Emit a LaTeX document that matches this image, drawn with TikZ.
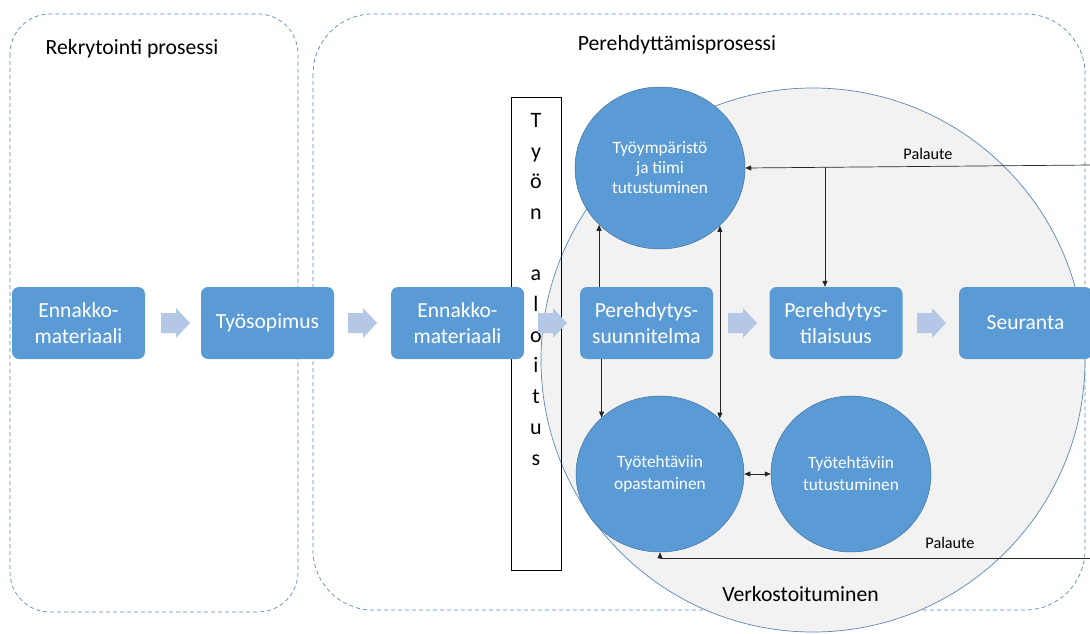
\documentclass[tikz,border=0pt]{standalone}
\usepackage{fontspec}
\setmainfont{Carlito}
\usetikzlibrary{shapes.geometric,arrows.meta}
\definecolor{boxblue}{HTML}{5B9BD5}
\definecolor{edgeblue}{HTML}{41719C}
\definecolor{arrblue}{HTML}{B4C7E7}
\definecolor{dashblue}{HTML}{5B87B8}
\definecolor{netgrey}{HTML}{F2F2F2}
\definecolor{netedge}{HTML}{5A86B5}
\newcommand\blockarr[2]{\fill[arrblue] (#1,#2) ++(0,-10) -- ++(15,0) -- ++(0,-5) -- ++(14,15) -- ++(-14,15) -- ++(0,-5) -- ++(-15,0) -- cycle;}
\begin{document}
\begin{tikzpicture}[x=1pt,y=-1pt,
  stepbox/.style={fill=boxblue, rounded corners=7pt, minimum width=133pt, minimum height=72pt, text=white, align=center, font=\fontsize{21.5}{26}\selectfont, inner sep=0pt},
  topic/.style={ellipse, fill=boxblue, draw=edgeblue, line width=0.5pt, inner sep=0pt, text=white, align=center, font=\fontsize{17.3}{20}\selectfont},
  topicb/.style={topic, font=\fontsize{17.3}{22}\selectfont},
  conn/.style={draw=black!85, line width=0.7pt, -{Triangle[length=6pt,width=5pt]}},
  dconn/.style={draw=black!85, line width=0.7pt, {Triangle[length=6pt,width=5pt]}-{Triangle[length=6pt,width=5pt]}},
  lane/.style={draw=dashblue, line width=0.7pt, dash pattern=on 4pt off 3pt},
  title/.style={font=\fontsize{21.7}{26}\selectfont, inner sep=0pt},
  fb/.style={font=\fontsize{16.2}{19}\selectfont, inner sep=0pt}
]
\useasboundingbox (0,0) rectangle (1090,634);
% swimlanes
\draw[lane, rounded corners=40pt] (10,14) rectangle (298,612);
\draw[lane, rounded corners=60pt] (313,14) rectangle (1085,610);
\node[title] (t1) at (132,49) {Rekrytointi prosessi};
\node[title] (t2) at (677,45) {Perehdyttämisprosessi};
% network circle
\node[circle, fill=netgrey, draw=netedge, line width=0.7pt, minimum size=544pt, inner sep=0pt] (net) at (813,360) {};
\node[title] (verk) at (800.5,594) {Verkostoituminen};
% Työn aloitus
\node[draw=black, line width=0.7pt, minimum width=50pt, minimum height=473pt, inner sep=0pt] (aloitusbox) at (536,333.5) {};
\node[anchor=north, inner sep=0pt, align=center, font=\fontsize{22}{30.7}\selectfont] (aloitus) at (536,113) {T\\y\\ö\\n\\\mbox{}\\a\\l\\o\\i\\t\\u\\s};
% steps
\node[stepbox] (e1) at (78.5,323) {Ennakko-\\materiaali};
\node[stepbox] (tyosop) at (267.5,323) {Työsopimus};
\node[stepbox] (e2) at (457.5,323) {Ennakko-\\materiaali};
\node[stepbox] (psuun) at (646.5,323) {Perehdytys-\\suunnitelma};
\node[stepbox] (ptil) at (836,323) {Perehdytys-\\tilaisuus};
\node[stepbox] (seur) at (1025.5,323) {Seuranta};
\blockarr{161}{323}
\blockarr{348}{323}
\blockarr{538}{323}
\blockarr{728}{323}
\blockarr{917}{323}
% topics
\node[topic, minimum width=170pt, minimum height=162pt] (c1) at (660,168) {Työympäristö\\ja tiimi\\tutustuminen};
\node[topicb, minimum width=168pt, minimum height=156pt] (c2) at (660,474) {Työtehtäviin\\opastaminen};
\node[topicb, minimum width=160pt, minimum height=156pt] (c3) at (851,474) {Työtehtäviin\\tutustuminen};
% connectors
\draw[conn] (psuun.north -| c1.223.8) -- (c1.223.8);
\draw[conn] (psuun.south -| c2.136.8) -- (c2.136.8);
\draw[dconn] (c1.316.2) -- (c1.316.2 |- c2.43.2);
\draw[dconn] (c2.east) -- (c3.west);
\coordinate (pa1) at (1092,165);
\coordinate (br) at (825,167.3);
\draw[conn] (pa1) -- (c1.east);
\draw[conn] (br) -- (br |- ptil.north);
\node[fb] (fb1) at (928,154) {Palaute};
\coordinate (pa2) at (1092,558);
\draw[conn] (pa2) -| (c2.south);
\node[fb] (fb2) at (950,543) {Palaute};
\end{tikzpicture}
\end{document}
